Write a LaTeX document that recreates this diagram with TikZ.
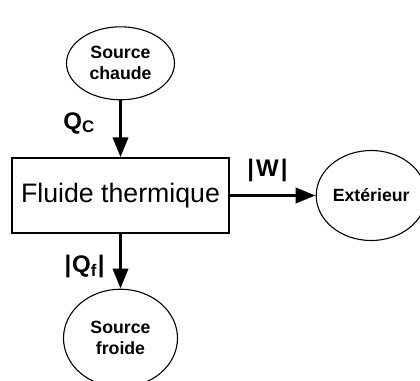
\documentclass[tikz,border=0pt]{standalone}
\usepackage{fontspec}
\setmainfont{Liberation Sans}
\usepackage{tikz}
\usetikzlibrary{shapes.geometric, arrows.meta, positioning}

\begin{document}
\begin{tikzpicture}[
  x=1pt, y=1pt,
  box/.style={rectangle, draw, line width=1.3pt, minimum width=217pt, minimum height=75pt, inner sep=0pt, font=\fontsize{26.7}{30}\selectfont},
  source/.style={ellipse, draw, line width=1.1pt, inner sep=0pt, align=center, font=\fontsize{17.7}{21}\selectfont\bfseries},
  lbl/.style={font=\fontsize{24}{28}\selectfont\bfseries, inner sep=0pt},
  arrow/.style={-{Triangle[length=20pt, width=15pt]}, line width=3.6pt}
]
\useasboundingbox (0,0) rectangle (420,-380);

\node (fluide) [box] at (120.5,-195.5) {Fluide thermique};
\node (chaude) [source, minimum width=108pt, minimum height=73pt, above=57pt of fluide] {Source\\chaude};
\node (froide) [source, minimum width=114pt, minimum height=98pt, below=55pt of fluide] {Source\\froide};
\node (ext) [source, minimum width=110pt, minimum height=90pt, right=86pt of fluide] {Extérieur};

\draw [arrow] (chaude) -- node[lbl, pos=0.4, left=24pt] {Q\textsubscript{C}} (fluide);
\draw [arrow] (fluide) -- node[lbl, pos=0.6, left=14pt] {|\kern1ptQ\textsubscript{f}\kern1pt|} (froide);
\draw [arrow] (fluide) -- node[lbl, pos=0.44, above=12pt] {|\kern2ptW\kern2pt|} (ext);

\end{tikzpicture}
\end{document}
